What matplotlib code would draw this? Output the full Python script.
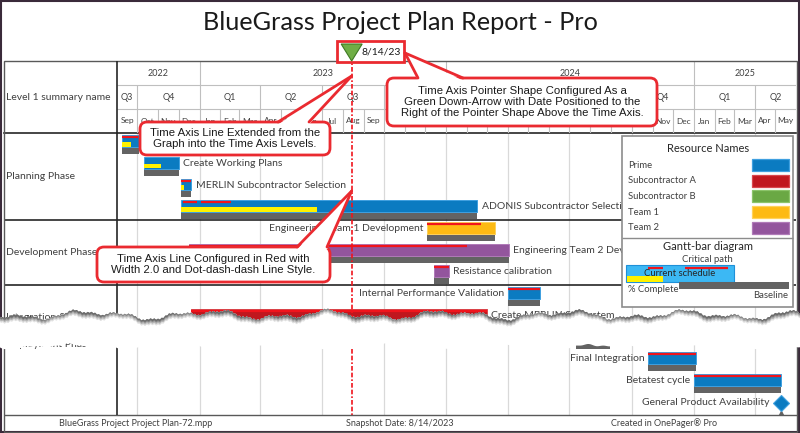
import matplotlib
matplotlib.use("Agg")
import matplotlib.pyplot as plt
import matplotlib.dates as mdates
from matplotlib.patches import Rectangle, FancyBboxPatch, Polygon
import numpy as np
import pandas as pd

# ---------------- data ----------------
tasks = ["", "Create Working Plans", "MERLIN Subcontractor Selection", "ADONIS Subcontractor Selection",
         "Engineering Team 1 Development", "Engineering Team 2 Development", "Resistance calibration",
         "Internal Performance Validation", "Create MERLIN Subsystem", "", "Final Integration", "Betatest cycle"]
task_rows = [0, 1, 2, 3, 4, 5, 6, 7, 8, 9, 10, 11]
starts = ["2022-09-08", "2022-10-11", "2022-12-04", "2022-12-04", "2023-12-03", "2022-12-16",
          "2023-12-13", "2024-04-01", "2022-12-20", "2024-07-11", "2024-10-25", "2025-01-01"]
ends = ["2022-10-03", "2022-12-01", "2022-12-20", "2024-02-16", "2024-03-13", "2024-04-02",
        "2024-01-05", "2024-05-18", "2024-03-01", "2024-08-30", "2025-01-04", "2025-05-10"]
resources = ["Prime", "Prime", "Prime", "Prime", "Team 1", "Team 2", "Team 2", "Prime",
             "Subcontractor A", "Prime", "Prime", "Prime"]
pct_complete = [55, 50, 35, 46, 0, 0, 0, 0, 0, 0, 0, 0]
label_side = ["right", "right", "right", "right", "left", "right", "right", "left",
              "right", "right", "left", "left"]
critical = [[("2022-09-09", "2022-10-02")], [], [("2022-12-04", "2022-12-20")],
            [("2022-12-07", "2022-12-28"), ("2023-01-03", "2023-02-16")],
            [("2023-12-03", "2024-02-21")], [("2022-12-16", "2024-01-31")],
            [("2023-12-13", "2024-01-05")], [("2024-04-01", "2024-05-18")],
            [("2022-12-20", "2024-03-01")], [], [("2024-10-25", "2025-01-04")],
            [("2025-01-01", "2025-05-10")]]

milestone_name = "General Product Availability"
milestone_date = "2025-05-10"
milestone_row = 12

phase_names = ["Planning Phase", "Development Phase", "Integration & Testing", "Deployment Phase"]
phase_label_rows = [2, 5.5, 8.5, 9.75]
phase_dividers = [4, 7, 9.5]

resource_names = ["Prime", "Subcontractor A", "Subcontractor B", "Team 1", "Team 2"]
resource_colors = ["#0B7BC1", "#C0171E", "#6AA844", "#FDBA13", "#93559D"]
resource_edges = ["#3FA0E0", "#D8474D", "#8CC46A", "#FFD25A", "#B07AB8"]

snapshot = "2023-08-14"
time_start, time_end = "2022-09-01", "2025-06-01"
n_rows = 13

# callout boxes (pixels: left, top, right, bottom)
box_pointer = (387, 78, 657, 126)
box_extend = (140, 122, 330, 155)
box_style = (97, 247, 330, 282)

# ---------------- style ----------------
RED = "#EA2A30"
CRIT = "#F0141C"
GRAY = "#636363"
YELLOW = "#FFF200"
TXT = "#404040"
GRID = "#D9D9D9"
FONT = ["Lato", "DejaVu Sans"]
CALL_FONT = ["Liberation Sans", "DejaVu Sans"]
plt.rcParams["font.family"] = FONT

W, H = 800, 433
fig = plt.figure(figsize=(W / 100, H / 100), dpi=100)
fig.patch.set_facecolor("white")


def fpos(x0, y0, x1, y1):
    return [x0 / W, 1 - y1 / H, (x1 - x0) / W, (y1 - y0) / H]


ax = fig.add_axes(fpos(117, 133, 796, 415))
hx = fig.add_axes(fpos(117, 61, 796, 133))
lx = fig.add_axes(fpos(4, 133, 117, 415))
ov = fig.add_axes([0, 0, 1, 1])
ov.set_zorder(5)

t0, t1 = mdates.date2num(pd.Timestamp(time_start)), mdates.date2num(pd.Timestamp(time_end))
for a in (ax, hx):
    a.set_xlim(t0, t1)
ax.set_ylim(n_rows, 0)
lx.set_ylim(n_rows, 0)
lx.set_xlim(0, 1)
hx.set_ylim(3, 0)
ov.set_xlim(0, W)
ov.set_ylim(H, 0)
for a in (ax, hx, lx, ov):
    a.axis("off")


def covered(a, x, y):
    # header label hidden under one of the callout boxes?
    px, py = ov.transData.inverted().transform(a.transData.transform((x, y)))
    for bx0, by0, bx1, by1 in (box_pointer, box_extend, box_style):
        if bx0 + 4 < px < bx1 - 4 and by0 + 3 < py < by1:
            return True
    return False


def htext(x, y, s, fs):
    if not covered(hx, x, y):
        hx.text(x, y, s, ha="center", va="center", fontsize=fs, color=TXT)


months = pd.date_range(time_start, time_end, freq="MS")
mnum = mdates.date2num(months)

# ---------------- header (year / quarter / month) ----------------
hx.hlines([1, 2], t0, t1, color="#BFBFBF", lw=0.8)
for i in range(len(months) - 1):
    htext((mnum[i] + mnum[i + 1]) / 2, 2.5, months[i].strftime("%b"), 6)
for d, x in zip(months[1:-1], mnum[1:-1]):
    top = 0 if d.month == 1 else (1 if d.month in (4, 7, 10) else 2)
    hx.vlines(x, top, 3, color="#BFBFBF", lw=0.8)

q_edges = [t0] + [x for d, x in zip(months[1:-1], mnum[1:-1]) if d.month in (1, 4, 7, 10)] + [t1]
q_starts = [months[0]] + [d for d in months[1:-1] if d.month in (1, 4, 7, 10)]
for d, a, b in zip(q_starts, q_edges[:-1], q_edges[1:]):
    htext((a + b) / 2, 1.5, "Q%d" % ((d.month - 1) // 3 + 1), 6.5)
y_edges = [t0] + [x for d, x in zip(months[1:-1], mnum[1:-1]) if d.month == 1] + [t1]
y_starts = [months[0]] + [d for d in months[1:-1] if d.month == 1]
for d, a, b in zip(y_starts, y_edges[:-1], y_edges[1:]):
    htext((a + b) / 2, 0.5, str(d.year), 6.5)

# ---------------- body grid & dividers ----------------
q_lines = [x for d, x in zip(months[1:-1], mnum[1:-1]) if d.month in (1, 4, 7, 10)]
ax.vlines(q_lines, 0, n_rows, color=GRID, lw=0.9, zorder=0)
for r in phase_dividers:
    ax.axhline(r, color="#262626", lw=1.2, zorder=1)
    lx.axhline(r, color="#262626", lw=1.2)
ax.axhline(0, color="#262626", lw=1.2, clip_on=False)
lx.axhline(0, color="#262626", lw=1.2, clip_on=False)
for name, r in zip(phase_names, phase_label_rows):
    lx.text(0.015, r, name, ha="left", va="center", fontsize=7.5, color=TXT)

# ---------------- bars ----------------
col = dict(zip(resource_names, resource_colors))
edg = dict(zip(resource_names, resource_edges))
for name, r, s, e, res, pc, side, crit in zip(tasks, task_rows, starts, ends, resources,
                                                pct_complete, label_side, critical):
    s = mdates.date2num(pd.Timestamp(s))
    e = mdates.date2num(pd.Timestamp(e))
    ax.barh(r + 0.81, e - s, left=s, height=0.32, color=GRAY, lw=0, zorder=2)
    ax.barh(r + 0.375, e - s, left=s, height=0.55, color=col[res], edgecolor=edg[res], lw=0.7, zorder=3)
    if pc:
        ax.barh(r + 0.525, (e - s) * pc / 100, left=s, height=0.21, color=YELLOW, lw=0, zorder=4)
    for cs, ce in crit:
        ax.hlines(r + 0.19, mdates.date2num(pd.Timestamp(cs)), mdates.date2num(pd.Timestamp(ce)),
                  color=CRIT, lw=1.6, zorder=5)
    if name:
        if side == "right":
            ax.annotate(name, (e, r + 0.4), xytext=(3, 0), textcoords="offset points",
                        ha="left", va="center", fontsize=7.5, color=TXT, zorder=6)
        else:
            ax.annotate(name, (s, r + 0.4), xytext=(-2.5, 0), textcoords="offset points",
                        ha="right", va="center", fontsize=7.5, color=TXT, zorder=6)

md = mdates.date2num(pd.Timestamp(milestone_date))
ax.plot(md, milestone_row + 0.45, marker="D", markersize=8.5, color="#0B7BC1",
        markeredgecolor="#3FA0E0", markeredgewidth=0.8, zorder=5)
ax.plot(md, milestone_row + 0.9, marker="^", markersize=3, color=GRAY, zorder=4)
ax.annotate(milestone_name, (md, milestone_row + 0.42), xytext=(-8.5, 0), textcoords="offset points",
            ha="right", va="center", fontsize=7.5, color=TXT)

# snapshot date line
snap = mdates.date2num(pd.Timestamp(snapshot))
dash = (0, (1, 1.2, 2.8, 1.2, 2.8, 1.2))
ax.axvline(snap, color=CRIT, lw=1.2, linestyle=dash, zorder=7)
hx.axvline(snap, color=CRIT, lw=1.2, linestyle=dash, zorder=7)

# ---------------- overlay: frame, title, pointer ----------------
ov.add_patch(Rectangle((0.8, 0.8), W - 1.6, H - 1.6, fill=False, ec="#3A2A3A", lw=1.5))
ov.add_patch(Rectangle((3.5, 61), 793, 371, fill=False, ec="#595959", lw=1.0))
ov.hlines(415, 3.5, 796.5, color="#595959", lw=1.0)
ov.vlines(117, 61, 415, color="#262626", lw=1.2)
ov.text(6, 97, "Level 1 summary name", ha="left", va="center", fontsize=7.5, color=TXT)
ov.text(400, 22, "BlueGrass Project Plan Report - Pro", ha="center", va="center",
        fontsize=18.2, color="#1A1A1A")

xs = ov.transData.inverted().transform(ax.transData.transform((snap, 0)))[0]
ov.add_patch(Rectangle((337, 41), 67, 21, fill=True, fc="white", ec=RED, lw=2, zorder=8))
ov.add_patch(Polygon([(xs - 10.5, 44), (xs + 10.5, 44), (xs, 61)], closed=True,
                     fc="#6FAE45", ec="#3E7A23", lw=0.8, zorder=9))
ov.text(xs + 10, 52, "8/14/23", ha="left", va="center", fontsize=7.5, color="#1A1A1A", zorder=9)


def callout(box, base, tip, lines, fs=8.2):
    x0, y0, x1, y1 = box
    ov.add_patch(FancyBboxPatch((x0, y0), x1 - x0, y1 - y0,
                                boxstyle="round,pad=0,rounding_size=7",
                                fc="white", ec=RED, lw=2, zorder=20))
    ov.add_patch(Polygon([(base[0], y0 + 2.5), tip, (base[1], y0 + 2.5)], closed=True,
                         fc="white", ec="none", zorder=21))
    for bx in base:
        ov.plot([bx, tip[0]], [y0, tip[1]], color=RED, lw=2, zorder=22,
                solid_capstyle="round")
    ov.text((x0 + x1) / 2, (y0 + y1) / 2, "\n".join(lines), ha="center", va="center",
            fontsize=fs, color="#1A1A1A", family=CALL_FONT, linespacing=1.15, zorder=23)


callout(box_pointer, (418, 463), (405, 53),
        ["Time Axis Pointer Shape Configured As a",
         "Green Down-Arrow with Date Positioned to the",
         "Right of the Pointer Shape Above the Time Axis."])
callout(box_extend, (278, 309), (xs, 76),
        ["Time Axis Line Extended from the", "Graph into the Time Axis Levels."])
callout(box_style, (297, 327), (xs, 191),
        ["Time Axis Line Configured in Red with", "Width 2.0 and Dot-dash-dash Line Style."])

# ---------------- legend ----------------
ov.add_patch(Rectangle((622, 136), 171, 171, fc="white", ec="#8C8C8C", lw=1.2, zorder=10))
ov.text(708, 148, "Resource Names", ha="center", va="center", fontsize=8, color="#262626", zorder=11)
for i, (nm, c, ec) in enumerate(zip(resource_names, resource_colors, resource_edges)):
    yy = 165 + i * 15.7
    ov.text(628, yy, nm, ha="left", va="center", fontsize=6.8, color=TXT, zorder=11)
    ov.add_patch(Rectangle((752, yy - 6), 37, 12, fc=c, ec=ec, lw=0.9, zorder=11))
ov.hlines(238, 622, 793, color="#8C8C8C", lw=1.0, zorder=11)
ov.text(708, 246, "Gantt-bar diagram", ha="center", va="center", fontsize=8, color="#262626", zorder=11)
ov.text(707, 259, "Critical path", ha="center", va="center", fontsize=6.8, color=TXT, zorder=11)
ov.add_patch(Rectangle((626, 265), 108, 17, fc="#3CB8F4", ec="#1E90D8", lw=0.8, zorder=11))
ov.add_patch(Rectangle((627, 276), 36, 6, fc=YELLOW, ec="none", zorder=12))
ov.hlines(267.5, 648, 663, color=CRIT, lw=1.6, zorder=12)
ov.hlines(267.5, 685, 728, color=CRIT, lw=1.6, zorder=12)
ov.text(680, 274, "Current schedule", ha="center", va="center", fontsize=6.8, color="#262626", zorder=13)
ov.add_patch(Rectangle((679, 282), 110, 7, fc=GRAY, ec="none", zorder=11))
ov.text(628, 289, "% Complete", ha="left", va="center", fontsize=6.8, color=TXT, zorder=11)
ov.text(788, 295, "Baseline", ha="right", va="center", fontsize=6.8, color=TXT, zorder=11)

# ---------------- torn paper gap ----------------
tx = np.linspace(-5, W + 5, 900)
yu = 315 + 3 * np.sin(tx / 19) + 2 * np.sin(tx / 8.1 + 2) + 1.0 * np.sin(tx / 3.1) + 0.6 * np.sin(tx * 1.7)
yl = 346.5 + 1.5 * np.sin(tx / 17 + 0.7) + 1.2 * np.sin(tx / 6.3) + 0.6 * np.sin(tx / 2.3)
ov.fill_between(tx, yu, yl, color="white", lw=0, zorder=30)
for off, c in [(5, "#E0E0E0"), (3.5, "#B5B5B5"), (2, "#8A8A8A"), (0.9, "#6A6A6A")]:
    ov.fill_between(tx, yu, yu + off + 0.8 * np.sin(tx / 11), color=c, lw=0, zorder=31)

# ---------------- footer ----------------
ov.text(136, 423, "BlueGrass Project Project Plan-72.mpp", ha="center", va="center", fontsize=6.5, color=TXT)
ov.text(400, 423, "Snapshot Date: 8/14/2023", ha="center", va="center", fontsize=6.5, color=TXT)
ov.text(664, 423, "Created in OnePager\u00ae Pro", ha="center", va="center", fontsize=6.5, color=TXT)

fig.savefig("out.png", dpi=100)
